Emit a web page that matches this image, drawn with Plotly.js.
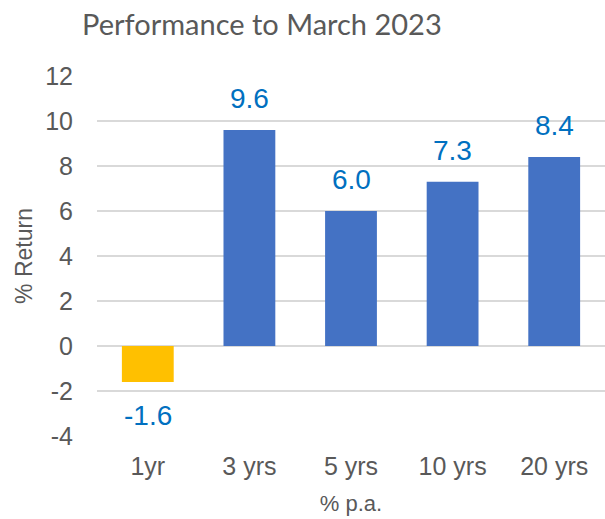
<!DOCTYPE html>
<html>
<head>
<meta charset="utf-8">
<script src="https://cdn.plot.ly/plotly-3.0.1.min.js"></script>
<style>html,body{margin:0;padding:0;background:#fff;}#chart{width:605px;height:519px;}</style>
</head>
<body>
<div id="chart"></div>
<script>
const categories = ["1yr", "3 yrs", "5 yrs", "10 yrs", "20 yrs"];
const returns = [-1.6, 9.6, 6.0, 7.3, 8.4];
const barColors = ["#FFC000", "#4472C4", "#4472C4", "#4472C4", "#4472C4"];
const yTicks = [-4, -2, 0, 2, 4, 6, 8, 10, 12];

const trace = {
  type: "bar",
  x: categories,
  y: returns,
  marker: {color: barColors},
  hoverinfo: "none"
};

const annotations = categories.map((c, i) => ({
  x: c, y: returns[i], xref: "x", yref: "y",
  text: returns[i].toFixed(1),
  showarrow: false,
  yanchor: returns[i] >= 0 ? "bottom" : "top",
  yshift: returns[i] >= 0 ? 14 : -16,
  font: {family: "Liberation Sans, Arial, sans-serif", size: 28, color: "#0070C0"}
}));

annotations.push({
  text: "Performance to March 2023",
  xref: "paper", yref: "paper",
  x: (262 - 97) / 508, y: 1, yshift: 53,
  xanchor: "center", yanchor: "middle",
  showarrow: false,
  font: {family: "Lato, Carlito, sans-serif", size: 29, color: "#595959"}
});

const layout = {
  width: 605, height: 519,
  margin: {l: 97, r: 0, t: 76, b: 83},
  paper_bgcolor: "#fff", plot_bgcolor: "#fff",
  showlegend: false,
  bargap: 0.49,
  xaxis: {
    type: "category",
    showgrid: false, showline: false, zeroline: false,
    ticks: "outside", ticklen: 8, tickcolor: "rgba(0,0,0,0)",
    tickfont: {family: "Liberation Sans, Arial, sans-serif", size: 25, color: "#595959"},
    title: {text: "% p.a.", standoff: 16, font: {family: "Liberation Sans, Arial, sans-serif", size: 22, color: "#595959"}}
  },
  yaxis: {
    range: [-4, 12],
    tickvals: yTicks,
    ticktext: yTicks.map(String),
    showgrid: true, gridcolor: "#D9D9D9", gridwidth: 1.5,
    zeroline: true, zerolinecolor: "#D9D9D9", zerolinewidth: 1.5,
    showline: false,
    ticks: "outside", ticklen: 18, tickcolor: "rgba(0,0,0,0)",
    tickfont: {family: "Liberation Sans, Arial, sans-serif", size: 25, color: "#595959"},
    title: {text: "% Return", standoff: 6, font: {family: "Liberation Sans, Arial, sans-serif", size: 23, color: "#595959"}}
  },
  annotations: annotations
};

Plotly.newPlot("chart", [trace], layout, {displayModeBar: false, staticPlot: true});
</script>
</body>
</html>
